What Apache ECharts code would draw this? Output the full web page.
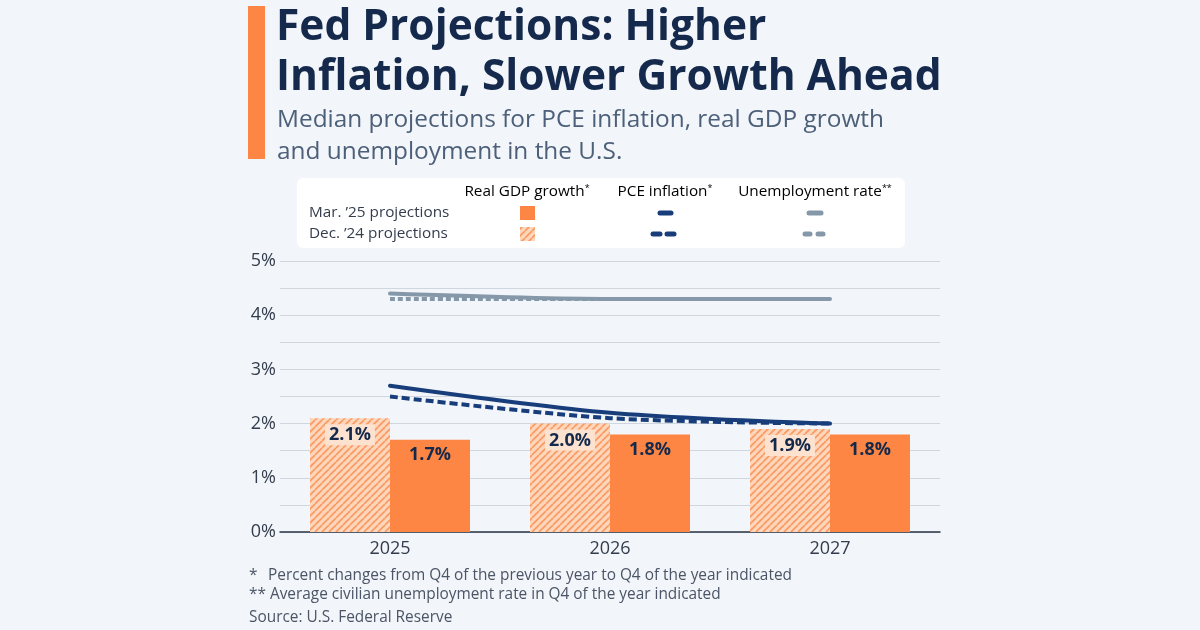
<!DOCTYPE html>
<html><head><meta charset="utf-8">
<script src="https://cdn.jsdelivr.net/npm/echarts@6/dist/echarts.min.js"></script>
<style>html,body{margin:0;padding:0;background:#f2f5f9}#c{width:1200px;height:630px}</style>
</head><body><div id="c"></div>
<script>
// ---- data ----
const categories = ['2025', '2026', '2027'];
const gdpDec = [2.1, 2.0, 1.9];
const gdpMar = [1.7, 1.8, 1.8];
const pceDec = [2.5, 2.1, 2.0];
const pceMar = [2.7, 2.2, 2.0];
const unempDec = [4.3, 4.3, 4.3];
const unempMar = [4.4, 4.3, 4.3];
const yTicks = [0, 1, 2, 3, 4, 5];

const ORANGE = '#fd8645', NAVY = '#173d7a', GRAY = '#8598a9', TEXT = '#333d4d';
const FONT = '"Open Sans", "Noto Sans", sans-serif';

function hatch() {
  const s = 7, cv = document.createElement('canvas');
  cv.width = s; cv.height = s;
  const g = cv.getContext('2d');
  g.fillStyle = '#fdd6bb'; g.fillRect(0, 0, s, s);
  g.strokeStyle = '#f99a63'; g.lineWidth = 1.7;
  for (let i = -1; i <= 1; i++) { g.beginPath(); g.moveTo(i * s, s); g.lineTo(i * s + s, 0); g.stroke(); }
  return cv;
}
const hatchPat = { image: hatch(), repeat: 'repeat' };

const chart = echarts.init(document.getElementById('c'));
const lbl = { show: true, position: 'insideTop', distance: 6, formatter: p => p.value.toFixed(1) + '%',
  color: '#14294b', fontFamily: FONT, fontWeight: 'bold', fontSize: 18 };

const hdr = { fontFamily: FONT, fontSize: 15.3, fill: TEXT };
const rich = { a: { fontFamily: FONT, fontSize: 15.3, color: TEXT }, s: { fontFamily: FONT, fontSize: 9, color: TEXT, verticalAlign: 'top', padding: [0, 0, 8, 0] } };
const FN = { fontFamily: FONT, fontSize: 15.4, fill: '#4b5566', verticalAlign: 'middle' };

chart.setOption({
  backgroundColor: '#f2f5f9',
  animation: false,
  grid: { left: 280, right: 260, top: 261, bottom: 98 },
  xAxis: { type: 'category', data: categories,
    axisLine: { lineStyle: { color: '#2b3445', width: 1.5 } }, axisTick: { show: false },
    axisLabel: { color: TEXT, fontFamily: FONT, fontSize: 18, margin: 8 } },
  yAxis: { type: 'value', min: 0, max: 5, interval: 0.5,
    axisLabel: { color: TEXT, fontFamily: FONT, fontSize: 18, margin: 4,
      formatter: v => yTicks.includes(v) ? v + '%' : '' },
    splitLine: { lineStyle: { color: '#cfd6de', width: 1 } } },
  series: [
    { type: 'bar', name: 'GDP Dec', data: gdpDec, barWidth: 80, barGap: '0%',
      itemStyle: { color: hatchPat }, label: Object.assign({}, lbl, { backgroundColor: '#fde2cf', padding: [2, 4, 1, 4] }) },
    { type: 'bar', name: 'GDP Mar', data: gdpMar, barWidth: 80,
      itemStyle: { color: ORANGE }, label: lbl },
    { type: 'line', data: unempDec, symbol: 'none', smooth: 0.3, z: 3,
      lineStyle: { color: GRAY, width: 4, type: [5, 3] } },
    { type: 'line', data: unempMar, symbol: 'none', smooth: 0.3, z: 4,
      lineStyle: { color: GRAY, width: 4, cap: 'round' } },
    { type: 'line', data: pceDec, symbol: 'none', smooth: 0.3, z: 5,
      lineStyle: { color: NAVY, width: 4, type: [8, 4] } },
    { type: 'line', data: pceMar, symbol: 'none', smooth: 0.3, z: 6,
      lineStyle: { color: NAVY, width: 4, cap: 'round' } }
  ],
  graphic: [
    { type: 'rect', shape: { x: 248, y: 6, width: 17, height: 153 }, style: { fill: ORANGE } },
    { type: 'text', x: 276, y: 3, style: { text: 'Fed Projections: Higher\nInflation, Slower Growth Ahead',
        fontFamily: FONT, fontWeight: 'bold', fontSize: 42.5, lineHeight: 50, fill: '#14294b' } },
    { type: 'text', x: 277, y: 104, style: { text: 'Median projections for PCE inflation, real GDP growth\nand unemployment in the U.S.',
        fontFamily: FONT, fontSize: 24.4, lineHeight: 32, fill: '#4d6079' } },
    // legend box
    { type: 'rect', shape: { x: 297, y: 178, width: 608, height: 70, r: 6 }, style: { fill: '#ffffff' } },
    { type: 'text', x: 527, y: 192, style: { text: '{a|Real GDP growth}{s|*}', rich: rich, align: 'center', verticalAlign: 'middle' } },
    { type: 'text', x: 665, y: 192, style: { text: '{a|PCE inflation}{s|*}', rich: rich, align: 'center', verticalAlign: 'middle' } },
    { type: 'text', x: 815, y: 192, style: { text: '{a|Unemployment rate}{s|**}', rich: rich, align: 'center', verticalAlign: 'middle' } },
    { type: 'text', x: 309, y: 213, style: Object.assign({ text: "Mar. ’25 projections", verticalAlign: 'middle' }, hdr) },
    { type: 'text', x: 309, y: 234, style: Object.assign({ text: "Dec. ’24 projections", verticalAlign: 'middle' }, hdr) },
    { type: 'rect', shape: { x: 520, y: 206, width: 15, height: 14 }, style: { fill: ORANGE } },
    { type: 'rect', shape: { x: 520, y: 227, width: 15, height: 14 }, style: { fill: hatchPat } },
    { type: 'line', shape: { x1: 660, y1: 213, x2: 671, y2: 213 }, style: { stroke: NAVY, lineWidth: 5, lineCap: 'round' } },
    { type: 'line', shape: { x1: 653, y1: 234, x2: 660, y2: 234 }, style: { stroke: NAVY, lineWidth: 5, lineCap: 'round' } },
    { type: 'line', shape: { x1: 667, y1: 234, x2: 674, y2: 234 }, style: { stroke: NAVY, lineWidth: 5, lineCap: 'round' } },
    { type: 'line', shape: { x1: 809, y1: 213, x2: 821, y2: 213 }, style: { stroke: GRAY, lineWidth: 5, lineCap: 'round' } },
    { type: 'line', shape: { x1: 805, y1: 234, x2: 810, y2: 234 }, style: { stroke: GRAY, lineWidth: 5, lineCap: 'round' } },
    { type: 'line', shape: { x1: 818, y1: 234, x2: 823, y2: 234 }, style: { stroke: GRAY, lineWidth: 5, lineCap: 'round' } },
    // footnotes
    { type: 'text', x: 249, y: 576, style: Object.assign({ text: '*' }, FN) },
    { type: 'text', x: 268, y: 576, style: Object.assign({ text: 'Percent changes from Q4 of the previous year to Q4 of the year indicated' }, FN) },
    { type: 'text', x: 249, y: 595, style: Object.assign({ text: '** Average civilian unemployment rate in Q4 of the year indicated' }, FN) },
    { type: 'text', x: 249, y: 618, style: Object.assign({ text: 'Source: U.S. Federal Reserve' }, FN) }
  ]
});
</script></body></html>
